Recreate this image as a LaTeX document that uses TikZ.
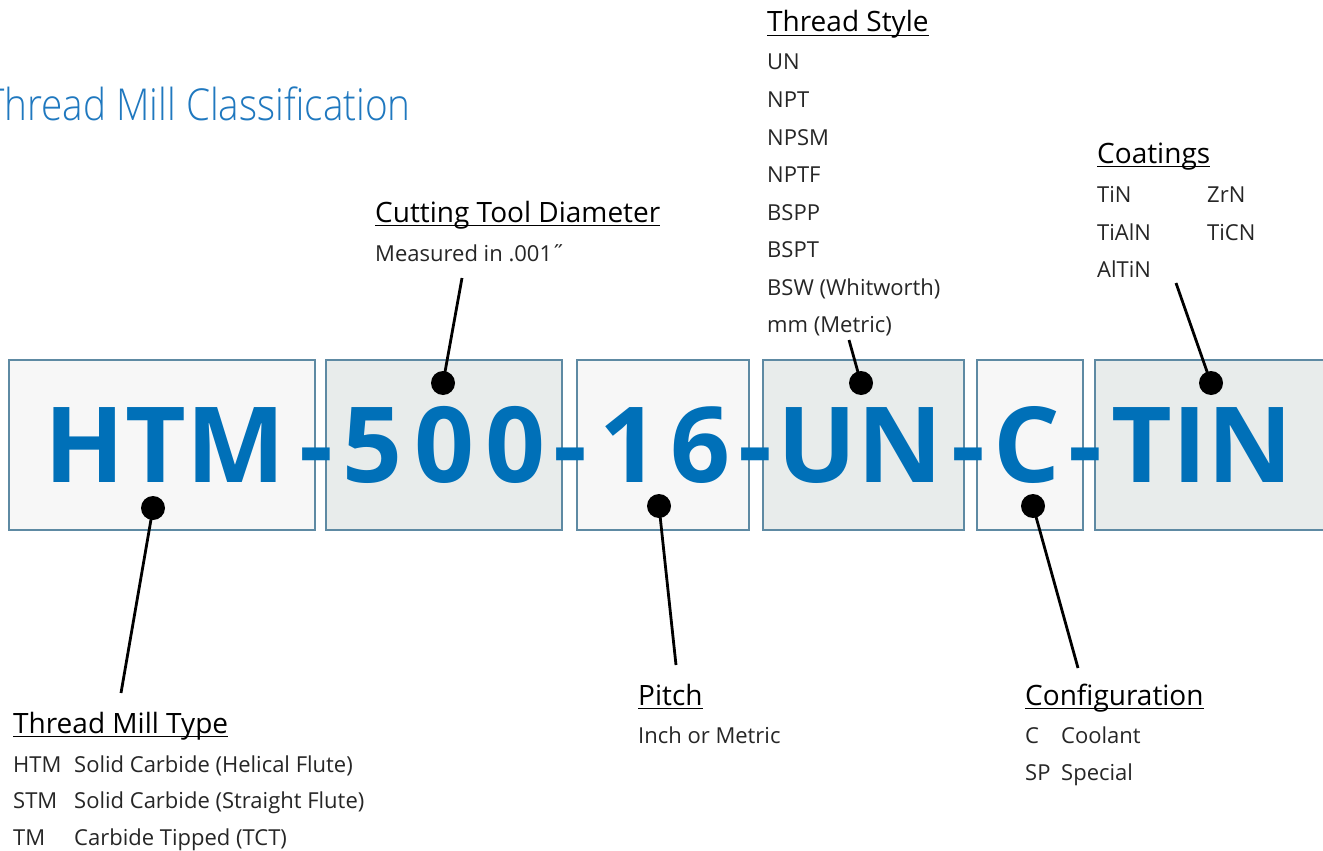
\documentclass[tikz,border=0pt]{standalone}
\usepackage{fontspec}
\setmainfont{Open Sans}
\newfontfamily\thinfont{Open Sans Light}
\definecolor{codeblue}{HTML}{0070B8}
\definecolor{titleblue}{HTML}{1F78BF}
\definecolor{boxedge}{HTML}{5E8AA3}
\definecolor{boxlight}{HTML}{F7F7F7}
\definecolor{boxdark}{HTML}{E8ECEB}
\definecolor{inktext}{HTML}{262626}
\tikzset{
    codebox/.style={draw=boxedge,line width=1.5pt},
    code/.style={font=\fontsize{105}{105}\selectfont\bfseries,text=codeblue,inner sep=0pt,anchor=base},
    head/.style={font=\fontsize{28}{30}\selectfont,text=black,anchor=base west,inner sep=0pt},
    item/.style={font=\fontsize{22}{24}\selectfont,text=inktext,anchor=base west,inner sep=0pt},
    pin/.style={circle,fill=black,inner sep=0pt,minimum size=24pt},
    lead/.style={line width=2.8pt},
    uline/.style={line width=1.8pt}
}
\newcommand{\ulhead}[1]{\draw[uline] ([yshift=-3.5pt]#1.base west) -- ([yshift=-3.5pt]#1.base east);}
\newcommand{\codedash}[2][7pt]{#2\rlap{\kern#1-}}
\newcommand{\dg}{\kern12pt}
\begin{document}
\begin{tikzpicture}[x=1pt,y=-1pt]
                \useasboundingbox (0,0) rectangle (1323,851);
                \fill[white] (0,0) rectangle (1323,851);
                % title
                \node[font=\fontsize{44}{46}\thinfont,text=titleblue,anchor=base east,inner sep=0pt] (title) at (411,121) {\scalebox{0.88}[1]{Thread Mill Classification}};
                % the code boxes
                \draw[codebox,fill=boxlight] (9,360) rectangle (315,530);
                \draw[codebox,fill=boxdark] (326,360) rectangle (562,530);
                \draw[codebox,fill=boxlight] (577,360) rectangle (749,530);
                \draw[codebox,fill=boxdark] (763,360) rectangle (964,530);
                \draw[codebox,fill=boxlight] (977,360) rectangle (1083,530);
                \draw[codebox,fill=boxdark] (1095,360) rectangle (1330,530);
                \node[code] (htm) at (165,482) {\codedash[14pt]{HTM}};
                \node[code] (dia) at (444,482) {\codedash[8pt]{5\dg 0\dg 0}};
                \node[code] (pitch) at (665,482) {\codedash[8pt]{1\dg 6}};
                \node[code] (style) at (860,482) {\codedash[9pt]{UN}};
                \node[code] (conf) at (1027,482) {\codedash[8pt]{C}};
                \node[code] (coat) at (1202,482) {TIN};
                % pins and leaders
                \node[pin] (htmpin) at (153,508) {};
                \node[pin] (diapin) at (443,383) {};
                \node[pin] (pitchpin) at (659,506) {};
                \node[pin] (stylepin) at (861,383) {};
                \node[pin] (confpin) at (1033,506) {};
                \node[pin] (coatpin) at (1211,383) {};
                \coordinate (htmend) at (121,693);
                \coordinate (diaend) at (462,278);
                \coordinate (pitchend) at (676,665);
                \coordinate (styleend) at (849,340);
                \coordinate (confend) at (1078,668);
                \coordinate (coatend) at (1176,283);
                \draw[lead] (htmpin.center) -- (htmend);
                \draw[lead] (diapin.center) -- (diaend);
                \draw[lead] (pitchpin.center) -- (pitchend);
                \draw[lead] (stylepin.center) -- (styleend);
                \draw[lead] (confpin.center) -- (confend);
                \draw[lead] (coatpin.center) -- (coatend);
                % thread style
                \node[head] (stylehead) at (767,32) {Thread Style};
                \ulhead{stylehead}
                \foreach \s [count=\i from 0] in {UN,NPT,NPSM,NPTF,BSPP,BSPT,BSW (Whitworth),mm (Metric)}
                {
                    \node[item] (style\i) at (767,70+37.57*\i) {\s};
                }
                % coatings
                \node[head] (coathead) at (1097,163) {Coatings};
                \ulhead{coathead}
                \node[item] (coat1) at (1097,202) {TiN};
                \node[item] (coat2) at (1207,202) {ZrN};
                \node[item] (coat3) at (1097,240) {TiAlN};
                \node[item] (coat4) at (1207,240) {TiCN};
                \node[item] (coat5) at (1097,277) {AlTiN};
                % diameter
                \node[head] (diahead) at (375,222) {Cutting Tool Diameter};
                \ulhead{diahead}
                \node[item] (dia1) at (375,261) {Measured in .001˝};
                % thread mill type
                \node[head] (htmhead) at (13,733) {Thread Mill Type};
                \ulhead{htmhead}
                \foreach \c/\d [count=\i from 0] in {HTM/Solid Carbide (Helical Flute),STM/Solid Carbide (Straight Flute),TM/Carbide Tipped (TCT)}
                {
                    \node[item] (htmc\i) at (13,772+36.5*\i) {\c};
                    \node[item] (htmd\i) at (74,772+36.5*\i) {\d};
                }
                % pitch
                \node[head] (pitchhead) at (638,705) {Pitch};
                \ulhead{pitchhead}
                \node[item] (pitch1) at (638,743) {Inch or Metric};
                % configuration
                \node[head] (confhead) at (1025,705) {Configuration};
                \ulhead{confhead}
                \node[item] (confc1) at (1025,743) {C};
                \node[item] (confd1) at (1061,743) {Coolant};
                \node[item] (confc2) at (1025,780) {SP};
                \node[item] (confd2) at (1061,780) {Special};
\end{tikzpicture}
\end{document}
